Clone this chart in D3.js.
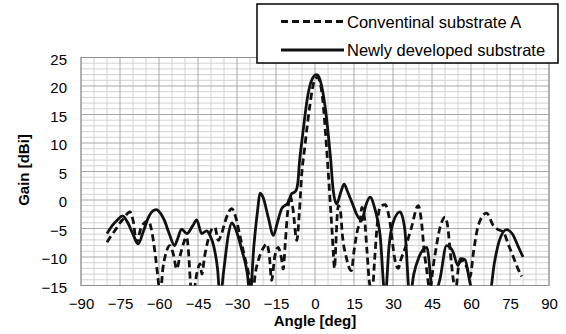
<!DOCTYPE html>
<html><head><meta charset="utf-8">
<script src="https://cdn.jsdelivr.net/npm/d3@7"></script>
<style>body{margin:0;background:#fff}svg{display:block}</style>
</head><body>
<svg id="c" width="566" height="334"></svg>
<script>
// ---- data ----
const xTicks = [-90,-75,-60,-45,-30,-15,0,15,30,45,60,75,90];
const yTicks = [25,20,15,10,5,0,-5,-10,-15];
const seriesNames = ["Conventinal substrate A","Newly developed substrate"];

const convAngle = [-80,-78,-77,-75,-73.7,-72,-71.2,-70,-68.6,-67,-66,-64.1,-63,-61.5,-60.3,-59.6,-58.5,-57.7,-55.8,-54.5,-53.2,-52,-50.5,-49.4,-48.5,-48,-47,-45.5,-44.2,-43.5,-42.5,-41,-39.5,-38.5,-37.2,-36,-34,-32,-30.5,-29,-27.6,-26,-25,-24,-23,-21.8,-20,-18.6,-17.5,-16.7,-15.5,-14.2,-13,-12.2,-11.5,-10.5,-9.6,-8.5,-7,-6,-5.1,-4,-3,-2,-1,0,1,2,3,4,5,5.8,6.5,7,7.5,8,8.5,9,9.8,10.5,12,14,15,16.5,17.3,18,19,20,21,22,23,24,25,27,28.5,30.8,32,33,35,37,39.7,41,42,43,44,46,48,50,51,52,53.2,54,55.5,57,58.5,59.6,61,62.5,63.5,66,68.6,70.5,72.4,74.5,76.3,78,79.5];
const convGain  = [-7.4,-6,-5.4,-4,-3.3,-2.3,-2.1,-3.5,-7.4,-5,-4.2,-3.6,-5,-9.4,-14.1,-17,-12,-10,-8,-9.5,-12.1,-10,-7.5,-6.5,-10,-14,-17,-13,-11.2,-13,-10,-6.8,-5,-4.8,-7.1,-6,-3,-1.5,-3,-6,-8.9,-12,-14.1,-17,-13,-10.6,-8.5,-7.7,-10,-14.1,-10,-8.3,-10,-12.1,-8,-2,0.8,-1.5,-7.1,-2,4.6,9,13,16.5,19.5,21.2,21.5,20.5,17.5,12,5.5,-0.1,-5,-8.9,-12,-8,-3,-1,-2,-6,-10,-12.4,-9,-5,-4.1,-1.3,-3,-9,-14.7,-16,-10,-4,-1.3,-0.8,-3,-10.6,-12,-10.5,-8,-5,-1,-4,-9,-12.4,-15.5,-10,-5,-3,-4.5,-9,-14,-16,-11,-10.6,-12,-13.5,-9,-5,-3.6,-2.3,-4.5,-5.2,-5.6,-8,-10,-12,-13.4];

const newAngle = [-80,-78,-76,-74,-72,-70,-68,-66,-64,-62,-61,-60,-58,-56,-54,-53,-51.3,-49.3,-47,-45.5,-43.6,-41.7,-40.4,-39,-37.5,-36.5,-35,-33.3,-32,-30.8,-28,-26,-25,-23.5,-22,-21.2,-20,-18,-16,-14.5,-12.8,-10.3,-9,-7.5,-6.6,-6,-5,-4,-3,-2,-1,0,0.5,1,2,3,4,5,6,7,8.3,10,11.2,12.5,14.7,16,18,19.5,21.2,23,25,27,28.5,30,32.7,34.5,36.5,38,40,43,45.5,48,50.6,53,55,56,57.7,59.6,61,64,67,69,71,73.7,76,78,80];
const newGain  = [-5.9,-4.5,-3.5,-2.8,-4,-6,-7.7,-5.5,-3,-1.8,-1.7,-2,-3.5,-6,-8,-7,-5.1,-5.9,-4.5,-3.5,-5.9,-5.4,-6.2,-8,-12,-17,-12,-6,-4,-4.8,-9,-13,-17,-8,-1.5,1.2,0.5,-3,-6.2,-4,-1.5,-0.4,1.1,1.5,3,6.5,10.5,14.3,17.7,20,21.3,21.9,22,21.9,21,19,16,12,7.3,1.7,-0.7,1.5,2.8,1.5,-1,-2.5,-3.6,-1,0.5,-1.5,-6,-17,-8,-4,-2.1,-5,-17,-13,-10,-8.3,-17,-14,-8,-9,-11.5,-10.3,-10.5,-14.5,-17,-17,-17,-11,-7,-5.2,-6,-8,-10];

// ---- layout ----
const m = {l:81, r:549, t:57.5, b:285.5};
const svg = d3.select("#c");
const x = d3.scaleLinear().domain([-90,90]).range([m.l,m.r]);
const y = d3.scaleLinear().domain([-15,25]).range([m.b,m.t]);
const font = "'Liberation Sans', Arial, sans-serif";

// grid
const g = svg.append("g");
d3.range(-15,25.001,1).forEach(v=>{
  if(v%5===0) return;
  g.append("line").attr("x1",m.l).attr("x2",m.r).attr("y1",y(v)).attr("y2",y(v))
   .attr("stroke","#d2d2d2").attr("stroke-width",1);
});
d3.range(-90,90.001,5).forEach(v=>{
  if(v%15===0) return;
  g.append("line").attr("y1",m.t).attr("y2",m.b).attr("x1",x(v)).attr("x2",x(v))
   .attr("stroke","#d2d2d2").attr("stroke-width",1);
});
yTicks.forEach(v=>{
  g.append("line").attr("x1",m.l).attr("x2",m.r).attr("y1",y(v)).attr("y2",y(v))
   .attr("stroke","#a8a8a8").attr("stroke-width",1);
});
xTicks.forEach(v=>{
  g.append("line").attr("y1",m.t).attr("y2",m.b).attr("x1",x(v)).attr("x2",x(v))
   .attr("stroke","#a8a8a8").attr("stroke-width",1);
});
g.append("rect").attr("x",m.l).attr("y",m.t).attr("width",m.r-m.l).attr("height",m.b-m.t)
 .attr("fill","none").attr("stroke","#909090").attr("stroke-width",1);

// axes labels
const fmt = d=>d3.format("d")(d).replace("-","\u2212");
const xa = svg.append("g").attr("transform",`translate(0,${m.b})`)
  .call(d3.axisBottom(x).tickValues(xTicks).tickSize(0).tickPadding(13).tickFormat(fmt));
xa.select(".domain").remove();
xa.selectAll("text").attr("font-family",font).attr("font-size",15).attr("fill","#000");

const ya = svg.append("g").attr("transform",`translate(${m.l},0)`)
  .call(d3.axisLeft(y).tickValues(yTicks).tickSize(0).tickPadding(14).tickFormat(fmt));
ya.select(".domain").remove();
ya.selectAll("text").attr("font-family",font).attr("font-size",15).attr("fill","#000").attr("dy","0.45em");

svg.append("text").attr("x",(m.l+m.r)/2).attr("y",326).attr("text-anchor","middle")
 .attr("font-family",font).attr("font-weight","bold").attr("font-size",15).text("Angle [deg]");
svg.append("text").attr("transform",`translate(29,170) rotate(-90)`).attr("text-anchor","middle")
 .attr("font-family",font).attr("font-weight","bold").attr("font-size",15).text("Gain [dBi]");

// lines
svg.append("clipPath").attr("id","cp").append("rect")
 .attr("x",m.l).attr("y",m.t-5).attr("width",m.r-m.l).attr("height",m.b-m.t+5);
const line = d3.line().x(d=>x(d[0])).y(d=>y(d[1])).curve(d3.curveMonotoneX);
const conv = convAngle.map((a,i)=>[a,convGain[i]]);
const neu = newAngle.map((a,i)=>[a,newGain[i]]);
const lg = svg.append("g").attr("clip-path","url(#cp)");
lg.append("path").attr("d",line(neu)).attr("fill","none").attr("stroke","#111").attr("stroke-width",2.8).attr("stroke-linejoin","round");
lg.append("path").attr("d",line(conv)).attr("fill","none").attr("stroke","#111").attr("stroke-width",2.8).attr("stroke-dasharray","7,4");

// legend
const L = svg.append("g");
L.append("rect").attr("x",257).attr("y",4).attr("width",301).attr("height",59)
 .attr("fill","#fff").attr("stroke","#000").attr("stroke-width",1.5);
L.append("line").attr("x1",281).attr("x2",344).attr("y1",21.5).attr("y2",21.5)
 .attr("stroke","#111").attr("stroke-width",2.8).attr("stroke-dasharray","7,4");
L.append("line").attr("x1",281).attr("x2",344).attr("y1",50).attr("y2",50)
 .attr("stroke","#111").attr("stroke-width",2.8);
L.append("text").attr("x",347).attr("y",27.5).attr("font-family",font).attr("font-size",16.5).text(seriesNames[0]);
L.append("text").attr("x",347).attr("y",56).attr("font-family",font).attr("font-size",16.5).text(seriesNames[1]);
</script>
</body></html>
